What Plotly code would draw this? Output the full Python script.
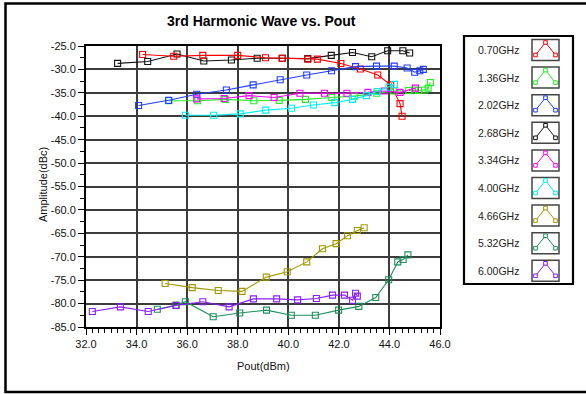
import plotly.graph_objects as go

# ---------------- data ----------------
series_names = ["0.70GHz", "1.36GHz", "2.02GHz", "2.68GHz", "3.34GHz",
                "4.00GHz", "4.66GHz", "5.32GHz", "6.00GHz"]
series_colors = ["#ff0000", "#22ee22", "#1f3cff", "#111111", "#ff00ff",
                 "#00f0f0", "#a09800", "#1f8f5a", "#8a1cff"]

x_070 = [34.24, 35.47, 36.62, 38.0, 39.1, 39.76, 40.77, 41.15, 42.08, 42.85, 43.54, 44.05, 44.42, 44.5]
y_070 = [-26.8, -27.2, -27.0, -27.0, -27.5, -27.6, -27.8, -27.8, -28.75, -29.9, -31.2, -33.3, -37.3, -40.0]

x_136 = [35.27, 36.42, 37.51, 38.64, 39.64, 40.68, 41.72, 42.61, 43.5, 44.17, 44.76, 45.0, 45.15, 45.4, 45.53, 45.62]
y_136 = [-36.7, -36.7, -36.4, -36.7, -36.6, -36.4, -36.0, -35.7, -35.1, -34.6, -34.5, -34.4, -34.5, -34.4, -34.0, -32.8]

x_202 = [34.08, 35.27, 36.38, 37.55, 38.61, 39.68, 40.73, 41.71, 42.66, 43.49, 44.19, 44.7, 45.0, 45.2, 45.34]
y_202 = [-37.7, -36.6, -35.3, -34.4, -33.3, -32.2, -31.2, -30.3, -29.4, -29.3, -29.3, -29.7, -30.6, -30.3, -30.0]

x_268 = [33.25, 34.44, 35.6, 36.66, 37.75, 38.77, 39.76, 40.77, 41.7, 42.54, 43.3, 43.93, 44.53, 44.8]
y_268 = [-28.7, -28.3, -26.7, -28.2, -28.0, -27.6, -27.6, -27.7, -27.0, -26.4, -27.3, -26.0, -26.0, -26.5]

x_334 = [36.38, 37.46, 38.45, 39.44, 40.46, 41.43, 42.32, 43.15, 43.8, 44.42, 45.03]
y_334 = [-36.3, -36.2, -35.6, -36.0, -35.1, -35.1, -35.1, -34.9, -34.6, -34.9, -34.0]

x_400 = [35.93, 37.05, 38.1, 39.11, 40.13, 40.99, 41.84, 42.54, 43.09, 43.51, 43.98, 44.2]
y_400 = [-39.8, -39.8, -39.5, -38.7, -38.3, -37.6, -37.1, -36.4, -35.6, -34.7, -33.8, -33.2]

x_466 = [35.13, 36.2, 37.23, 38.17, 39.13, 39.96, 40.73, 41.35, 41.89, 42.34, 42.73, 43.0]
y_466 = [-75.7, -76.6, -77.2, -77.4, -74.35, -73.2, -71.1, -68.3, -67.2, -65.5, -64.4, -63.8]

x_532 = [34.82, 35.56, 35.93, 37.03, 38.08, 39.14, 40.12, 41.07, 41.99, 42.79, 43.46, 43.97, 44.33, 44.54, 44.73]
y_532 = [-81.2, -80.3, -79.6, -82.8, -82.0, -81.4, -82.5, -82.5, -81.4, -80.6, -78.7, -74.9, -71.1, -70.6, -69.6]

x_600 = [32.25, 33.36, 34.46, 35.56, 36.62, 37.66, 38.62, 39.54, 40.37, 41.11, 41.75, 42.22, 42.54, 42.66, 42.73]
y_600 = [-81.7, -80.7, -81.7, -80.4, -79.6, -80.7, -79.0, -79.0, -79.2, -78.9, -78.2, -78.2, -79.3, -77.8, -78.4]

series_x = [x_070, x_136, x_202, x_268, x_334, x_400, x_466, x_532, x_600]
series_y = [y_070, y_136, y_202, y_268, y_334, y_400, y_466, y_532, y_600]

x_ticks = [32, 34, 36, 38, 40, 42, 44, 46]
x_tick_labels = ["32.0", "34.0", "36.0", "38.0", "40.0", "42.0", "44.0", "46.0"]
y_ticks = [-85, -80, -75, -70, -65, -60, -55, -50, -45, -40, -35, -30, -25]
y_tick_labels = ["-85.0", "-80.0", "-75.0", "-70.0", "-65.0", "-60.0", "-55.0",
                 "-50.0", "-45.0", "-40.0", "-35.0", "-30.0", "-25.0"]

title_text = "3rd Harmonic Wave vs. Pout"
x_title = "Pout(dBm)"
y_title = "Amplitude(dBc)"

# ---------------- layout geometry (pixels) ----------------
W, H = 586, 394
PL, PR, PT, PB = 86, 440, 46, 327


def fx(px):
    return (px - PL) / (PR - PL)


def fy(py):
    return (PB - py) / (PB - PT)


FONT = "Liberation Sans, Arial, sans-serif"

fig = go.Figure()
order = [3, 0, 1, 2, 4, 5, 6, 7, 8]
for i in order:
    c = series_colors[i]
    fig.add_trace(go.Scatter(
        x=series_x[i], y=series_y[i], name=series_names[i],
        mode="lines+markers",
        line=dict(color=c, width=1.1),
        marker=dict(symbol="square-open", size=6, color=c, line=dict(width=1.1, color=c)),
        showlegend=False,
    ))

shapes = []
annotations = []

# outer frame
shapes.append(dict(type="rect", xref="paper", yref="paper",
                   x0=fx(5.5), x1=fx(600), y0=fy(392), y1=fy(3.5),
                   line=dict(color="#000000", width=2.5), layer="above"))

# legend box
shapes.append(dict(type="rect", xref="paper", yref="paper",
                   x0=fx(464), x1=fx(573), y0=fy(284), y1=fy(36),
                   line=dict(color="#000000", width=2.2), fillcolor="white", layer="above"))

for i, (nm, c) in enumerate(zip(series_names, series_colors)):
    cy = 50 + i * 27.6
    annotations.append(dict(xref="paper", yref="paper", x=fx(521), y=fy(cy),
                            xanchor="right", yanchor="middle", text=nm, showarrow=False,
                            font=dict(family=FONT, size=10.5, color="#222222")))
    shapes.append(dict(type="rect", xref="paper", yref="paper",
                       x0=fx(532), x1=fx(559), y0=fy(cy + 10.5), y1=fy(cy - 10.5),
                       line=dict(color="#444444", width=1.5), fillcolor="white", layer="above"))
    pts = [(535.5, cy + 5.0), (545.5, cy - 7.5), (555.5, cy + 5.0)]
    path = "M {} {} L {} {} L {} {}".format(fx(pts[0][0]), fy(pts[0][1]),
                                            fx(pts[1][0]), fy(pts[1][1]),
                                            fx(pts[2][0]), fy(pts[2][1]))
    shapes.append(dict(type="path", xref="paper", yref="paper", path=path,
                       line=dict(color=c, width=1), layer="above"))
    for (px, py) in pts:
        shapes.append(dict(type="rect", xref="paper", yref="paper",
                           x0=fx(px - 1.8), x1=fx(px + 1.8), y0=fy(py + 1.8), y1=fy(py - 1.8),
                           line=dict(color=c, width=1), fillcolor="white", layer="above"))

# titles
annotations.append(dict(xref="paper", yref="paper", x=fx(261), y=fy(21),
                        xanchor="center", yanchor="middle", text="<b>" + title_text + "</b>",
                        showarrow=False, font=dict(family=FONT, size=14, color="#000000")))
annotations.append(dict(xref="paper", yref="paper", x=fx(263), y=fy(366),
                        xanchor="center", yanchor="middle", text=x_title,
                        showarrow=False, font=dict(family=FONT, size=11, color="#111111")))
annotations.append(dict(xref="paper", yref="paper", x=fx(43), y=fy(185),
                        xanchor="center", yanchor="middle", text=y_title, textangle=-90,
                        showarrow=False, font=dict(family=FONT, size=11, color="#111111")))

GRID = "#3c3c3c"
fig.update_layout(
    width=W, height=H,
    margin=dict(l=PL, r=W - PR, t=PT, b=H - PB, pad=0),
    paper_bgcolor="white", plot_bgcolor="white",
    font=dict(family=FONT, size=11, color="#111111"),
    shapes=shapes, annotations=annotations,
    showlegend=False,
    xaxis=dict(
        range=[32, 46], tickvals=x_ticks, ticktext=x_tick_labels,
        ticks="outside", ticklen=6, tickwidth=1.2, tickcolor="#000000",
        showline=True, linecolor="#000000", linewidth=2, mirror=True,
        showgrid=True, gridcolor=GRID, gridwidth=1.5, zeroline=False,
        tickfont=dict(family=FONT, size=11, color="#111111"),
        minor=dict(tick0=32, dtick=0.25, ticks="outside", ticklen=4, tickwidth=1,
                   tickcolor="#000000", showgrid=False),
    ),
    yaxis=dict(
        range=[-85, -25], tickvals=y_ticks, ticktext=y_tick_labels,
        ticks="outside", ticklen=6, tickwidth=1.2, tickcolor="#000000",
        showline=True, linecolor="#000000", linewidth=2, mirror=True,
        showgrid=True, gridcolor=GRID, gridwidth=1.5, zeroline=False,
        tickfont=dict(family=FONT, size=11, color="#111111"),
        minor=dict(tick0=-85, dtick=2.5, ticks="outside", ticklen=4, tickwidth=1,
                   tickcolor="#000000", showgrid=False),
    ),
)

fig.write_html("out.html")
